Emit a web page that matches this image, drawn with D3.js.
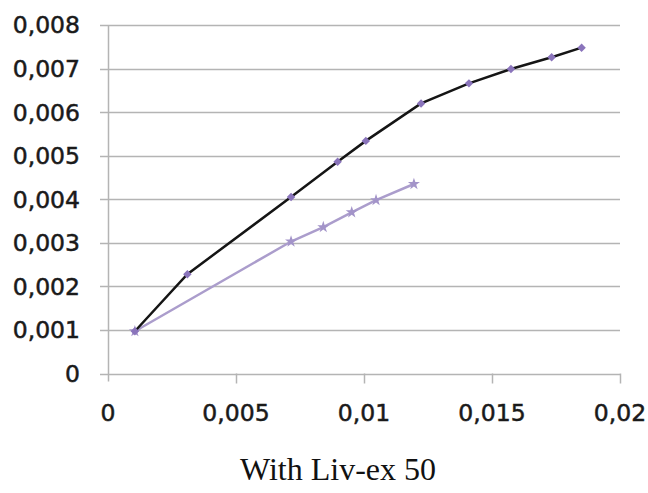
<!DOCTYPE html>
<html>
<head>
<meta charset="utf-8">
<script src="https://cdn.jsdelivr.net/npm/d3@7"></script>
<style>
  body { margin: 0; background: #fff; }
  svg { display: block; }
</style>
</head>
<body>
<script>
// values
var darkX = [0.00105, 0.0031, 0.00715, 0.00897, 0.01007, 0.01223, 0.0141, 0.01574, 0.01733, 0.0185];
var darkY = [0.00097, 0.00228, 0.00405, 0.00486, 0.00534, 0.0062, 0.00666, 0.00699, 0.00726, 0.00748];
var lightX = [0.00105, 0.00715, 0.00841, 0.00952, 0.01047, 0.01195];
var lightY = [0.00097, 0.00303, 0.00336, 0.0037, 0.00398, 0.00435];
var xTicks = [0, 0.005, 0.01, 0.015, 0.02];
var yTicks = [0, 0.001, 0.002, 0.003, 0.004, 0.005, 0.006, 0.007, 0.008];
var title = "With Liv-ex 50";

var width = 648, height = 493;

var svg = d3.select("body").append("svg")
    .attr("width", width)
    .attr("height", height);

var x = d3.scaleLinear().domain([0, 0.02]).range([108, 620]);
var y = d3.scaleLinear().domain([0, 0.008]).range([373.5, 25]);

var fmt = function(d) { return d === 0 ? "0" : String(+d.toFixed(4)).replace(".", ","); };

// horizontal gridlines
svg.append("g")
    .selectAll("line")
    .data(yTicks)
    .enter().append("line")
    .attr("x1", 100)
    .attr("x2", 620)
    .attr("y1", function(d) { return Math.round(y(d)) + 0.5; })
    .attr("y2", function(d) { return Math.round(y(d)) + 0.5; })
    .attr("stroke", "#b4b4b4")
    .attr("stroke-width", 1.5);

// y axis line
svg.append("line")
    .attr("x1", 108.5).attr("x2", 108.5)
    .attr("y1", y(0.008)).attr("y2", y(0) + 8)
    .attr("stroke", "#b4b4b4")
    .attr("stroke-width", 1.5);

// x ticks
svg.append("g")
    .selectAll("line")
    .data(xTicks.slice(1))
    .enter().append("line")
    .attr("x1", function(d) { return Math.round(x(d)) + 0.5; })
    .attr("x2", function(d) { return Math.round(x(d)) + 0.5; })
    .attr("y1", y(0))
    .attr("y2", y(0) + 10)
    .attr("stroke", "#b4b4b4")
    .attr("stroke-width", 1.5);

// y labels
svg.append("g")
    .selectAll("text")
    .data(yTicks)
    .enter().append("text")
    .attr("x", 80)
    .attr("y", function(d) { return y(d); })
    .attr("dy", "0.36em")
    .attr("text-anchor", "end")
    .attr("font-family", "DejaVu Sans, Verdana, sans-serif")
    .attr("font-size", 23.5)
    .attr("fill", "#1a1a1a")
    .attr("stroke", "#1a1a1a")
    .attr("stroke-width", 0.5)
    .text(fmt);

// x labels
svg.append("g")
    .selectAll("text")
    .data(xTicks)
    .enter().append("text")
    .attr("x", function(d) { return x(d); })
    .attr("y", 421)
    .attr("text-anchor", "middle")
    .attr("font-family", "DejaVu Sans, Verdana, sans-serif")
    .attr("font-size", 23.5)
    .attr("fill", "#1a1a1a")
    .attr("stroke", "#1a1a1a")
    .attr("stroke-width", 0.5)
    .text(fmt);

var line = d3.line()
    .x(function(d) { return x(d[0]); })
    .y(function(d) { return y(d[1]); });

var light = d3.zip(lightX, lightY);
var dark = d3.zip(darkX, darkY);

svg.append("path")
    .datum(light)
    .attr("d", line)
    .attr("fill", "none")
    .attr("stroke", "#ab9dcc")
    .attr("stroke-width", 2.5);

svg.append("g")
    .selectAll("path")
    .data(light)
    .enter().append("path")
    .attr("transform", function(d) { return "translate(" + x(d[0]) + "," + y(d[1]) + ")"; })
    .attr("d", d3.symbol().type(d3.symbolStar).size(45))
    .attr("fill", "#a394c9");

svg.append("path")
    .datum(dark)
    .attr("d", line)
    .attr("fill", "none")
    .attr("stroke", "#151515")
    .attr("stroke-width", 2.5);

svg.append("g")
    .selectAll("path")
    .data(dark)
    .enter().append("path")
    .attr("transform", function(d) { return "translate(" + x(d[0]) + "," + y(d[1]) + ") rotate(45)"; })
    .attr("d", d3.symbol().type(d3.symbolSquare).size(36))
    .attr("fill", "#8a74bb");

// title under the chart
svg.append("text")
    .attr("x", 338)
    .attr("y", 480)
    .attr("text-anchor", "middle")
    .attr("font-family", "Liberation Serif, Times New Roman, serif")
    .attr("font-size", 32)
    .attr("fill", "#111")
    .text(title);
</script>
</body>
</html>
